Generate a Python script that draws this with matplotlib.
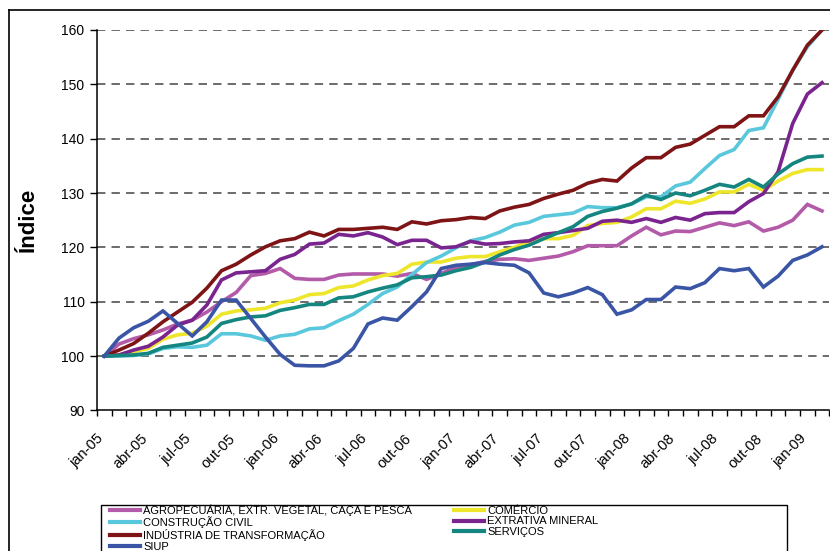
import numpy as np
import matplotlib
matplotlib.use("Agg")
from matplotlib import pyplot as plt
from matplotlib.lines import Line2D
from matplotlib.patches import Rectangle
from matplotlib import transforms

# monthly index, jan-05 = 100 ... fev-09
months = ["jan", "fev", "mar", "abr", "mai", "jun", "jul", "ago", "set", "out", "nov", "dez"]
periods = [m + "-" + str(y)[2:] for y in range(2005, 2010) for m in months][:50]

agro = [100, 102.2, 103.2, 103.9, 104.8, 105.9, 106.6, 108.1, 110.0, 111.7,
        114.8, 115.2, 116.1, 114.3, 114.1, 114.1, 114.9, 115.1, 115.1, 115.1,
        114.7, 115.2, 114.1, 115.2, 116.3, 116.8, 117.4, 117.8, 117.9, 117.6,
        118.0, 118.4, 119.2, 120.3, 120.3, 120.3, 122.1, 123.7, 122.3, 123.0,
        122.9, 123.7, 124.5, 124.0, 124.7, 123.0, 123.7, 125.0, 127.9, 126.7]
comercio = [100, 100.2, 100.8, 101.4, 103.1, 103.9, 104.2, 105.5, 107.7, 108.3,
            108.5, 108.8, 109.8, 110.3, 111.3, 111.5, 112.6, 112.9, 114.0, 114.8,
            115.2, 116.9, 117.3, 117.3, 118.0, 118.3, 118.3, 119.2, 120.0, 121.0,
            121.6, 121.6, 122.2, 124.0, 124.4, 124.6, 125.6, 127.1, 127.1, 128.5,
            128.1, 128.9, 130.2, 130.2, 131.6, 130.5, 132.2, 133.6, 134.3, 134.3]
construcao = [100, 100.0, 100.1, 100.4, 101.4, 101.7, 101.6, 102.0, 104.1, 104.1,
              103.7, 102.9, 103.7, 104.0, 105.0, 105.2, 106.5, 107.7, 109.5, 111.5,
              112.7, 115.0, 117.2, 118.4, 119.9, 121.2, 121.8, 122.8, 124.1, 124.6,
              125.7, 126.0, 126.3, 127.5, 127.3, 127.3, 128.0, 129.3, 129.3, 131.3,
              132.0, 134.5, 136.9, 138.0, 141.5, 142.0, 147.2, 152.6, 156.9, 160.0]
extrativa = [100, 100.2, 101.1, 101.8, 103.5, 105.7, 106.6, 109.4, 114.0, 115.3,
             115.5, 115.7, 117.8, 118.7, 120.6, 120.8, 122.4, 122.1, 122.7, 121.9,
             120.5, 121.3, 121.3, 119.9, 120.1, 121.1, 120.6, 120.7, 121.0, 121.2,
             122.4, 122.7, 123.1, 123.5, 124.8, 125.0, 124.6, 125.3, 124.6, 125.5,
             125.0, 126.2, 126.4, 126.4, 128.4, 129.9, 133.9, 142.8, 148.2, 150.3]
industria = [100, 101.1, 102.3, 104.2, 106.3, 108.1, 109.9, 112.5, 115.7, 116.9,
             118.6, 120.1, 121.2, 121.6, 122.8, 122.1, 123.3, 123.3, 123.5, 123.7,
             123.3, 124.7, 124.3, 124.9, 125.1, 125.5, 125.3, 126.7, 127.4, 127.9,
             129.0, 129.8, 130.5, 131.8, 132.5, 132.2, 134.6, 136.5, 136.5, 138.4,
             139.0, 140.6, 142.2, 142.2, 144.2, 144.2, 147.7, 152.6, 157.2, 160.0]
servicos = [100, 100.1, 100.2, 100.5, 101.6, 102.0, 102.4, 103.5, 106.0, 106.7,
            107.2, 107.4, 108.4, 108.9, 109.5, 109.5, 110.7, 110.9, 111.8, 112.5,
            113.1, 114.4, 114.6, 114.9, 115.7, 116.3, 117.3, 118.6, 119.6, 120.4,
            121.6, 122.7, 123.8, 125.7, 126.6, 127.2, 128.0, 129.6, 128.8, 130.0,
            129.5, 130.5, 131.6, 131.1, 132.5, 131.1, 133.5, 135.4, 136.6, 136.8]
siup = [100, 103.3, 105.2, 106.4, 108.3, 106.0, 103.7, 106.3, 110.3, 110.3,
        106.9, 103.5, 100.3, 98.3, 98.2, 98.2, 99.1, 101.4, 105.9, 107.0,
        106.6, 109.1, 111.8, 116.1, 116.7, 116.9, 117.2, 116.9, 116.7, 115.3,
        111.6, 110.9, 111.6, 112.6, 111.3, 107.7, 108.5, 110.4, 110.4, 112.7,
        112.4, 113.5, 116.1, 115.7, 116.1, 112.7, 114.7, 117.6, 118.6, 120.1]

series = [
    ("AGROPECUÁRIA, EXTR. VEGETAL, CAÇA E PESCA", agro, "#B35BA8"),
    ("COMÉRCIO", comercio, "#EEE62A"),
    ("CONSTRUÇÃO CIVIL", construcao, "#5AC8DC"),
    ("EXTRATIVA MINERAL", extrativa, "#7A2490"),
    ("INDÚSTRIA DE TRANSFORMAÇÃO", industria, "#7E1416"),
    ("SERVIÇOS", servicos, "#15857F"),
    ("SIUP", siup, "#3A55A5"),
]

plt.rcParams['font.family'] = ['Liberation Sans', 'DejaVu Sans']

fig = plt.figure(figsize=(8.3, 5.51), dpi=100)
ax = fig.add_axes([0.1169, 0.2552, 0.8823, 0.6904])

x = np.arange(len(periods))
lines = {}
for i, (name, vals, col) in enumerate(series):
    p, = ax.plot(x, vals, color=col, linewidth=2.6, solid_joinstyle='miter', zorder=3 + i)
    lines[name] = p

ax.set_xlim(-0.5, len(periods) - 0.5)
ax.set_ylim(90, 160)
ax.set_yticks(np.arange(90, 161, 10))
for v in range(100, 161, 10):
    ax.axhline(v, color='#444444', linewidth=1.1, dashes=(5.5, 4), zorder=1)

for s in ['top', 'right']:
    ax.spines[s].set_visible(False)
ax.spines['left'].set_linewidth(1.1)
ax.spines['bottom'].set_linewidth(1.1)

ax.tick_params(axis='y', length=5, width=1, labelsize=10, pad=4)
ax.set_xticks(x[::3])
ax.set_xticklabels(periods[::3], rotation=45, ha='right', va='top', rotation_mode='anchor')
ax.set_xticks(np.arange(-0.5, len(periods), 1), minor=True)
ax.tick_params(axis='x', which='major', length=0, labelsize=10.5, pad=15)
ax.tick_params(axis='x', which='minor', length=4, width=1)
off = transforms.ScaledTranslation(-8 / 100, 0, fig.dpi_scale_trans)
for lab in ax.get_xticklabels():
    lab.set_transform(lab.get_transform() + off)

ax.set_ylabel("Índice", fontsize=16, fontweight='bold', labelpad=16)

order = ["AGROPECUÁRIA, EXTR. VEGETAL, CAÇA E PESCA", "CONSTRUÇÃO CIVIL",
         "INDÚSTRIA DE TRANSFORMAÇÃO", "SIUP",
         "COMÉRCIO", "EXTRATIVA MINERAL", "SERVIÇOS"]
leg = fig.legend([lines[n] for n in order], order, ncol=2,
                 loc='upper left', bbox_to_anchor=(110 / 830, 1 - 504 / 551),
                 frameon=False, prop={'size': 8},
                 handlelength=2.7, handletextpad=0.27, labelspacing=0.08,
                 columnspacing=3.8, borderpad=0, borderaxespad=0)
for h in leg.legend_handles:
    h.set_linewidth(3)

# legend box, running past the bottom edge as in the source
fig.add_artist(Rectangle((101 / 830, -0.05), (787 - 101) / 830, 0.05 + 1 - 505 / 551,
                         transform=fig.transFigure, fill=False, edgecolor='black',
                         linewidth=1.0))

# outer frame of the chart area
fig.add_artist(Line2D([9 / 830, 9 / 830], [0, 1 - 10 / 551], color='black', linewidth=1.2))
fig.add_artist(Line2D([9 / 830, 1], [1 - 10 / 551, 1 - 10 / 551], color='black', linewidth=1.2))

fig.savefig("out.png", dpi=100)
